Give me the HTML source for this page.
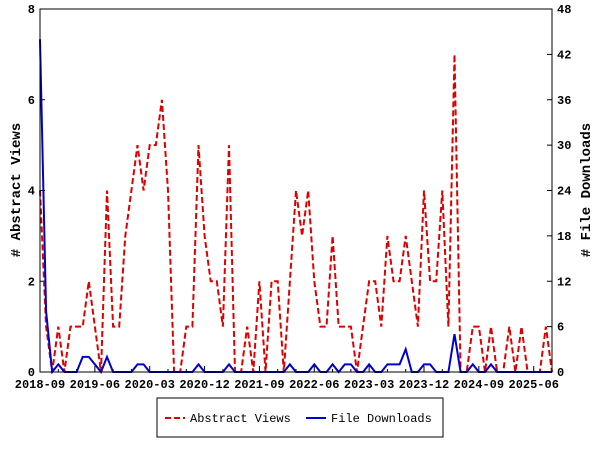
<!DOCTYPE html>
<html><head><meta charset="utf-8"><style>
html,body{margin:0;padding:0;background:#fff;width:600px;height:450px;overflow:hidden}
svg{display:block}
text{font-family:"Liberation Mono",monospace;font-size:12px;font-weight:bold;fill:#000}
</style></head><body>
<svg id="s" width="600" height="450" viewBox="0 0 600 450">
<rect x="0" y="0" width="600" height="450" fill="#fff"/>
<g id="ticks"></g>
<path id="red" fill="none" stroke="#dd0000" stroke-width="2" stroke-dasharray="6,3"/>
<path id="blue" fill="none" stroke="#0000cc" stroke-width="2"/>
<rect x="40" y="9" width="512" height="363" fill="none" stroke="#000" stroke-width="1"/>
<text x="20" y="190" transform="rotate(-90 20 190)" text-anchor="middle" style="font-size:14px;font-weight:bold">#  Abstract Views</text>
<text x="590" y="190" transform="rotate(-90 590 190)" text-anchor="middle" style="font-size:14px;font-weight:bold"># File Downloads</text>
<rect x="157" y="398" width="286" height="39" fill="#fff" stroke="#000" stroke-width="1"/>
<line x1="165" y1="418" x2="185" y2="418" stroke="#dd0000" stroke-width="2" stroke-dasharray="6,3"/>
<text x="190" y="422" style="font-weight:normal">Abstract Views</text>
<line x1="306" y1="418" x2="326" y2="418" stroke="#0000cc" stroke-width="2"/>
<text x="331" y="422" style="font-weight:normal">File Downloads</text>
</svg>
<script>
var red=[4,1,0,1,0,1,1,1,2,1,0,4,1,1,3,4,5,4,5,5,6,4,0,0,1,1,5,3,2,2,1,5,0,0,1,0,2,0,2,2,0,2,4,3,4,2,1,1,3,1,1,1,0,1,2,2,1,3,2,2,3,2,1,4,2,2,4,1,7,0,0,1,1,0,1,0,0,1,0,1,0,0,0,1,0];
var blue=new Array(85).fill(0);
var b={0:44,1:8,3:1,7:2,8:2,9:1,11:2,16:1,17:1,26:1,31:1,41:1,45:1,48:1,50:1,51:1,54:1,57:1,58:1,59:1,60:3,63:1,64:1,68:5,71:1,74:1};
for(var k in b)blue[k]=b[k];
function X(i){return 40+i*512/84;}
function path(a,sc){return a.map(function(v,i){return (i?'L':'M')+X(i).toFixed(1)+','+(372-v*sc).toFixed(1)}).join('');}
document.getElementById('red').setAttribute('d',path(red,363/8));
document.getElementById('blue').setAttribute('d',path(blue,363/48));
var g=document.getElementById('ticks'),h='';
for(var v=0;v<=8;v+=2){var y=372-v*363/8;h+='<line x1="40" y1="'+y+'" x2="45" y2="'+y+'" stroke="#000"/><text x="35" y="'+(y+4)+'" text-anchor="end">'+v+'</text>';}
for(var v=0;v<=48;v+=6){var y=372-v*363/48;h+='<line x1="547" y1="'+y+'" x2="552" y2="'+y+'" stroke="#000"/><text x="557" y="'+(y+4)+'">'+v+'</text>';}
var labs=['2018-09','2019-06','2020-03','2020-12','2021-09','2022-06','2023-03','2023-12','2024-09','2025-06'];
for(var i=0;i<=84;i+=3){var x=X(i);h+='<line x1="'+x+'" y1="372" x2="'+x+'" y2="'+(i%9==0?366:369)+'" stroke="#000"/>';}
labs.forEach(function(l,j){h+='<text x="'+X(j*9)+'" y="388" text-anchor="middle">'+l+'</text>';});
g.innerHTML=h;
</script>
</body></html>
